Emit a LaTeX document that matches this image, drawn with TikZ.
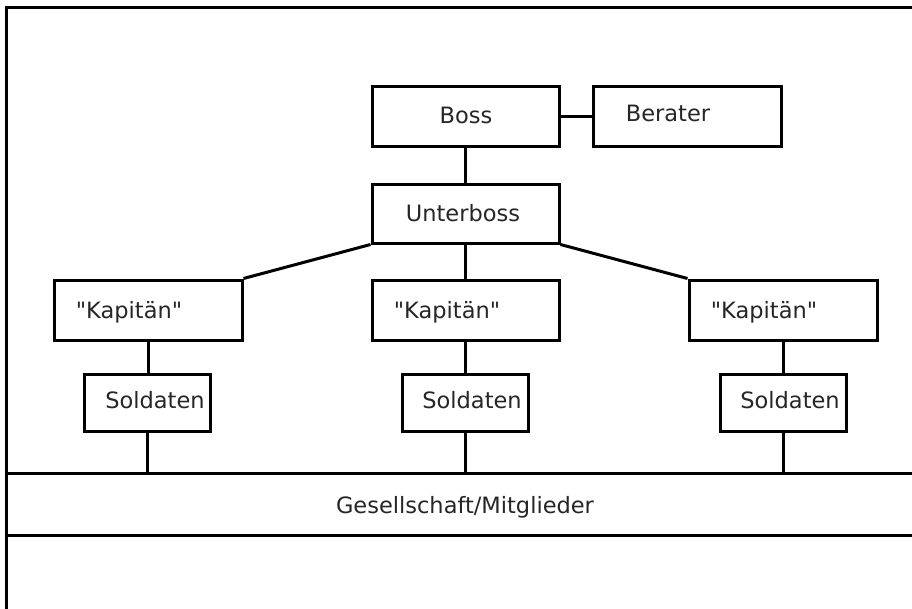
\documentclass[tikz,border=0pt]{standalone}
\usepackage{fontspec}
\setmainfont{DejaVu Sans}[Ligatures=TeXOff]
\usetikzlibrary{calc}
\tikzset{
  box/.style={draw=black, line width=3pt, rectangle, inner sep=0pt, fill=white},
  bigbox/.style={box, minimum width=187pt, minimum height=60pt},
  smallbox/.style={box, minimum width=126pt, minimum height=57pt},
  lbl/.style={anchor=base, inner sep=0pt, text=black!85, font=\fontsize{22.5}{26}\selectfont},
  conn/.style={line width=3pt}
}
\begin{document}
\begin{tikzpicture}[x=1pt,y=-1pt]
\useasboundingbox (0,0) rectangle (912,608);
\clip (0,0) rectangle (912,608);
\fill[white] (0,0) rectangle (912,608);
% outer border
\draw[line width=3pt] (6,7) rectangle (940,640);
% boxes
\node[bigbox] (boss) at (465.5,116) {};
\node[bigbox, minimum width=188pt] (berater) at (687,116) {};
\node[bigbox, minimum height=59pt] (unter) at (465.5,213.5) {};
\node[bigbox, minimum width=188pt] (kap1) at (148,310) {};
\node[bigbox] (kap2) at (465.5,310) {};
\node[bigbox, minimum width=188pt] (kap3) at (783,310) {};
\node[smallbox] (sol1) at (147.5,403) {};
\node[smallbox] (sol2) at (465.5,403) {};
\node[smallbox] (sol3) at (783,403) {};
\node[box, minimum width=934pt, minimum height=62pt] (ges) at (473,504) {};
% connectors
\draw[conn] (boss.east) -- (berater.west);
\draw[conn] (boss.south) -- (unter.north);
\draw[conn] (unter.south west) -- (kap1.north east);
\draw[conn] (unter.south) -- (kap2.north);
\draw[conn] (unter.south east) -- (kap3.north west);
\draw[conn] (kap1.south) -- (kap1.south |- sol1.north);
\draw[conn] (kap2.south) -- (kap2.south |- sol2.north);
\draw[conn] (kap3.south) -- (kap3.south |- sol3.north);
\draw[conn] (sol1.south) -- (sol1.south |- ges.north);
\draw[conn] (sol2.south) -- (sol2.south |- ges.north);
\draw[conn] (sol3.south) -- (sol3.south |- ges.north);
% labels
\node[lbl] (tboss) at (466,123) {Boss};
\node[lbl] (tberater) at (668,121.5) {Berater};
\node[lbl] (tunter) at (463,221.5) {Unterboss};
\node[lbl] (tkap1) at (129,318) {"Kapitän"};
\node[lbl] (tkap2) at (447,318) {"Kapitän"};
\node[lbl] (tkap3) at (764,318) {"Kapitän"};
\node[lbl] (tsol1) at (155,408) {Soldaten};
\node[lbl] (tsol2) at (472,408) {Soldaten};
\node[lbl] (tsol3) at (790,408) {Soldaten};
\node[lbl] (tges) at (465,513) {Gesellschaft/Mitglieder};
\end{tikzpicture}
\end{document}
